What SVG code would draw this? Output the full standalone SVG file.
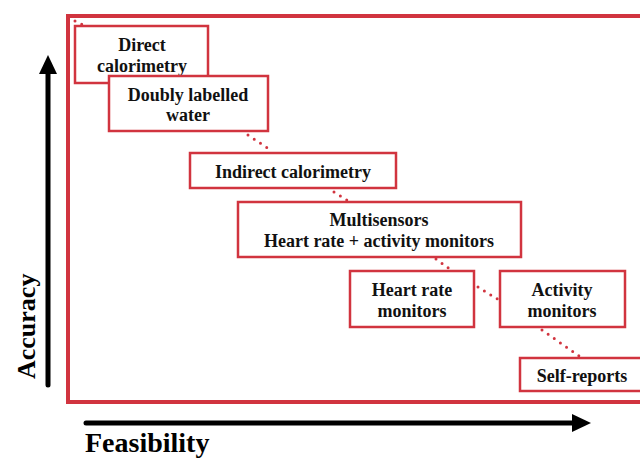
<svg xmlns="http://www.w3.org/2000/svg" width="640" height="459" viewBox="0 0 640 459">
<defs>
<style>
.frame{fill:none;stroke:#d1343f;stroke-width:4}
.box{fill:#fff;stroke:#d1343f;stroke-width:2.5}
.lbl{font-family:"Liberation Serif","Times New Roman",serif;font-weight:bold;font-size:18px;fill:#111;text-anchor:middle}
.axis{font-family:"Liberation Serif","Times New Roman",serif;font-weight:bold;fill:#000}
.dot{fill:none;stroke:#d1343f;stroke-width:3;stroke-linecap:round;stroke-dasharray:0 7.5}
.arr{stroke:#000;stroke-width:5;stroke-linecap:round}
</style>
</defs>
<rect width="640" height="459" fill="#fff"/>
<rect class="frame" x="68" y="16" width="600" height="386"/>
<g id="axes">
<line class="arr" x1="48" y1="385" x2="48" y2="70"/>
<polygon points="39,74 57,74 48,55" fill="#000"/>
<line class="arr" x1="86" y1="423" x2="575" y2="423"/>
<polygon points="572,414 572,432 591,423" fill="#000"/>
<text class="axis" x="85" y="452" font-size="28">Feasibility</text>
<text class="axis" font-size="26" transform="translate(35,379) rotate(-90)">Accuracy</text>
</g>
<g id="connectors">
<path class="dot" d="M75,21 L83,25"/>
<path class="dot" d="M248,135 L272,151"/>
<path class="dot" d="M334,192 L350,202"/>
<path class="dot" d="M436,259 L451,270"/>
<path class="dot" d="M478,287 L499,300"/>
<path class="dot" d="M542,330 L579,356"/>
</g>
<g id="n1"><rect class="box" x="75" y="26" width="133" height="57"/><text class="lbl" x="142" y="51">Direct</text><text class="lbl" x="142" y="72">calorimetry</text></g>
<g id="n2"><rect class="box" x="109" y="76" width="159" height="55"/><text class="lbl" x="188" y="101">Doubly labelled</text><text class="lbl" x="188" y="121">water</text></g>
<g id="n3"><rect class="box" x="190" y="153" width="206" height="35"/><text class="lbl" x="293" y="178">Indirect calorimetry</text></g>
<g id="n4"><rect class="box" x="238" y="202" width="283" height="55"/><text class="lbl" x="379" y="226">Multisensors</text><text class="lbl" x="379" y="247">Heart rate + activity monitors</text></g>
<g id="n5"><rect class="box" x="350" y="271" width="124" height="56"/><text class="lbl" x="412" y="296">Heart rate</text><text class="lbl" x="412" y="317">monitors</text></g>
<g id="n6"><rect class="box" x="500" y="271" width="125" height="56"/><text class="lbl" x="562" y="296">Activity</text><text class="lbl" x="562" y="317">monitors</text></g>
<g id="n7"><rect class="box" x="520" y="358" width="130" height="33"/><text class="lbl" x="582" y="382">Self-reports</text></g>
</svg>
